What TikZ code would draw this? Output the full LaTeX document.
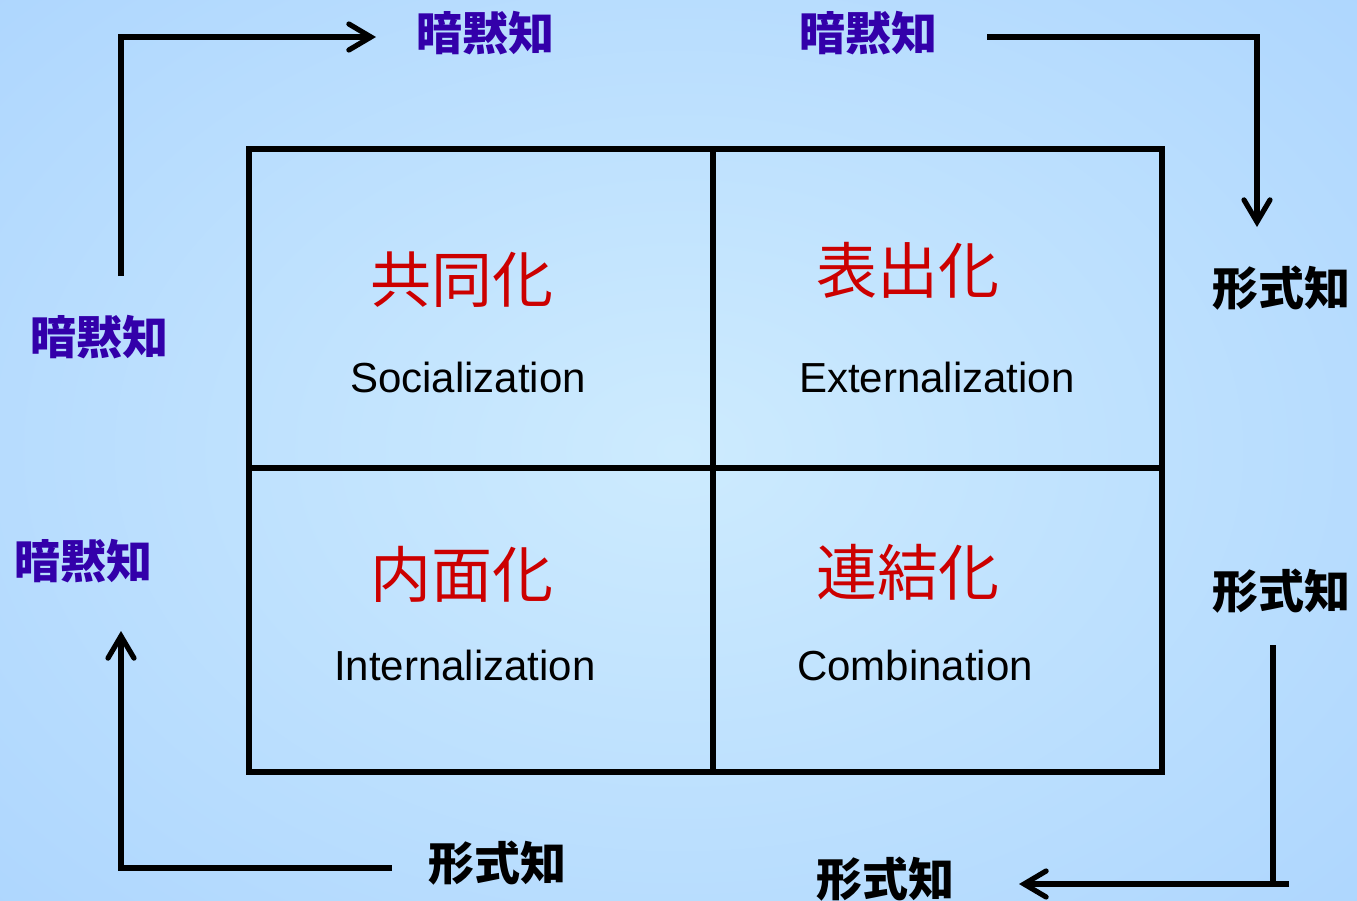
\documentclass[tikz,border=0pt]{standalone}
\usepackage{fontspec}
\setmainfont{Liberation Sans}
\newfontfamily\cjk{Noto Sans CJK JP}
\usetikzlibrary{arrows.meta}
\definecolor{tacit}{HTML}{3300AA}
\definecolor{modered}{HTML}{CC0000}
\definecolor{bginner}{HTML}{CDEBFE}
\definecolor{bgouter}{HTML}{A8D2FE}
\tikzset{
  grid/.style={line width=2.6pt, line cap=rect},
  flow/.style={line width=2.6pt, -{Straight Barb[length=11pt,width=13pt,line cap=round]}},
  flowplain/.style={line width=2.6pt},
  tacitlbl/.style={font=\cjk\bfseries\fontsize{23}{23}\selectfont, text=tacit, inner sep=0pt},
  explicitlbl/.style={font=\cjk\bfseries\fontsize{23}{23}\selectfont, text=black, inner sep=0pt},
  modelbl/.style={font=\cjk\fontsize{30.5}{30.5}\selectfont, text=modered, inner sep=0pt},
  englbl/.style={font=\fontsize{21}{21}\selectfont, text=black, inner sep=0pt},
}
\begin{document}
\begin{tikzpicture}[x=0.5pt,y=-0.5pt]
\useasboundingbox (0,0) rectangle (1357,901);
\shade[inner color=bginner, outer color=bgouter] (-450,-350) rectangle (1807,1251);
% grid
\draw[grid] (249,149) rectangle (1162,772);
\draw[grid] (713,149) -- (713,772);
\draw[grid] (249,468) -- (1162,468);
% mode labels
\node[modelbl] (soc) at (462,280) {共同化};
\node[englbl] (socE) at (468,377) {Socialization};
\node[modelbl] (ext) at (908,270) {表出化};
\node[englbl] (extE) at (937,377) {Externalization};
\node[modelbl] (int) at (462,574) {内面化};
\node[englbl] (intE) at (465,665) {Internalization};
\node[modelbl] (com) at (908,572) {連結化};
\node[englbl] (comE) at (915,665) {Combination};
% outer labels
\node[tacitlbl] (t1) at (485,33) {暗黙知};
\node[tacitlbl] (t2) at (868,33) {暗黙知};
\node[tacitlbl] (t3) at (100,337) {暗黙知};
\node[tacitlbl] (t4) at (84,561) {暗黙知};
\node[explicitlbl] (e1) at (1281,288) {形式知};
\node[explicitlbl] (e2) at (1281,591) {形式知};
\node[explicitlbl] (e3) at (885,879) {形式知};
\node[explicitlbl] (e4) at (497,863) {形式知};
% connector coordinates
\coordinate (a1s) at (121,276);
\coordinate (a1e) at (376,37);
\coordinate (a2s) at (987,37);
\coordinate (a2e) at (1257,227);
\coordinate (a3s) at (1273,645);
\coordinate (a3c) at (1273,884);
\coordinate (a3r) at (1289,884);
\coordinate (a3e) at (1019,884);
\coordinate (a4s) at (392,868);
\coordinate (a4e) at (121,631);
\draw[flow] (a1s) |- (a1e);
\draw[flow] (a2s) -| (a2e);
\draw[flowplain] (a3s) -- (a3c);
\draw[flow] (a3r) -- (a3e);
\draw[flow] (a4s) -| (a4e);
\end{tikzpicture}
\end{document}
